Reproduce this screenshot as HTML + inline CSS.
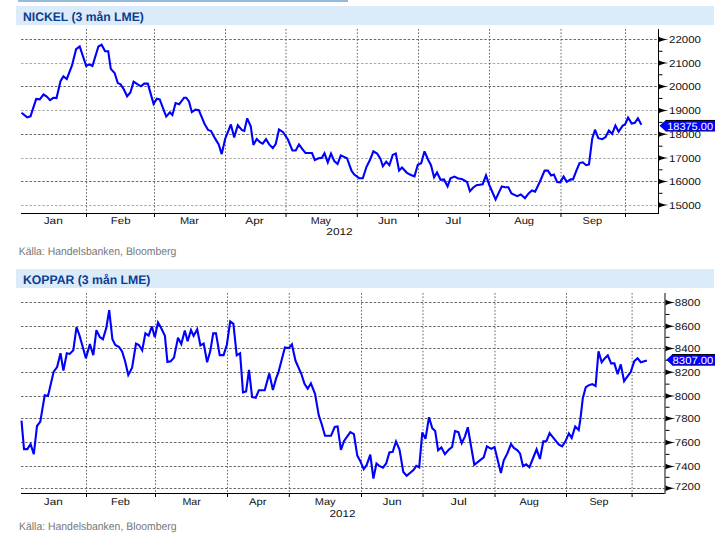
<!DOCTYPE html><html><head><meta charset="utf-8"><style>html,body{margin:0;padding:0;background:#fff;width:725px;height:553px;overflow:hidden}svg{display:block} text{text-rendering:geometricPrecision}</style></head><body>
<svg width="725" height="553" viewBox="0 0 725 553">
<rect x="0" y="0" width="725" height="553" fill="#fff"/>
<rect x="18" y="0" width="330" height="2" fill="#95bbd8"/>
<rect x="16" y="6" width="698" height="19" fill="#dcebfa"/>
<text x="23" y="20.8" font-family='"Liberation Sans", sans-serif' font-weight="bold" font-size="12.4" fill="#0b3d91" textLength="120.8" lengthAdjust="spacingAndGlyphs">NICKEL (3 mån LME)</text>
<line x1="21" y1="39.5" x2="658" y2="39.5" stroke="#6a6a6a" stroke-width="1" stroke-dasharray="2.5,1.75"/>
<line x1="21" y1="63.5" x2="658" y2="63.5" stroke="#aaaaaa" stroke-width="1" stroke-dasharray="2.5,1.75"/>
<line x1="21" y1="86.5" x2="658" y2="86.5" stroke="#6a6a6a" stroke-width="1" stroke-dasharray="2.5,1.75"/>
<line x1="21" y1="110.5" x2="658" y2="110.5" stroke="#aaaaaa" stroke-width="1" stroke-dasharray="2.5,1.75"/>
<line x1="21" y1="134.5" x2="658" y2="134.5" stroke="#6a6a6a" stroke-width="1" stroke-dasharray="2.5,1.75"/>
<line x1="21" y1="158.5" x2="658" y2="158.5" stroke="#aaaaaa" stroke-width="1" stroke-dasharray="2.5,1.75"/>
<line x1="21" y1="181.5" x2="658" y2="181.5" stroke="#6a6a6a" stroke-width="1" stroke-dasharray="2.5,1.75"/>
<line x1="21" y1="205.5" x2="658" y2="205.5" stroke="#aaaaaa" stroke-width="1" stroke-dasharray="2.5,1.75"/>
<line x1="86.5" y1="29" x2="86.5" y2="213" stroke="#666" stroke-width="1" stroke-dasharray="1.6,1.8"/>
<line x1="154.5" y1="29" x2="154.5" y2="213" stroke="#666" stroke-width="1" stroke-dasharray="1.6,1.8"/>
<line x1="225.5" y1="29" x2="225.5" y2="213" stroke="#666" stroke-width="1" stroke-dasharray="1.6,1.8"/>
<line x1="286.0" y1="29" x2="286.0" y2="213" stroke="#666" stroke-width="1" stroke-dasharray="1.6,1.8"/>
<line x1="357.3" y1="29" x2="357.3" y2="213" stroke="#666" stroke-width="1" stroke-dasharray="1.6,1.8"/>
<line x1="418.5" y1="29" x2="418.5" y2="213" stroke="#666" stroke-width="1" stroke-dasharray="1.6,1.8"/>
<line x1="489.5" y1="29" x2="489.5" y2="213" stroke="#666" stroke-width="1" stroke-dasharray="1.6,1.8"/>
<line x1="561.0" y1="29" x2="561.0" y2="213" stroke="#666" stroke-width="1" stroke-dasharray="1.6,1.8"/>
<line x1="625.5" y1="29" x2="625.5" y2="213" stroke="#666" stroke-width="1" stroke-dasharray="1.6,1.8"/>
<polyline points="21.5,112.8 27.2,117.3 30.5,116.3 36.2,98.9 39.8,99.4 43.5,94.5 46.8,96.5 50.0,100.1 53.3,97.8 56.5,98.1 60.6,81.0 63.4,76.4 66.8,79.0 72.0,65.5 76.1,49.2 79.7,46.5 86.2,66.0 89.1,64.4 92.4,66.0 98.4,46.5 101.6,44.7 105.1,51.2 108.2,51.2 110.8,68.9 114.6,73.0 117.8,83.1 120.6,84.4 123.8,89.3 127.1,96.3 130.4,92.5 133.6,81.6 137.7,84.4 140.9,86.3 144.2,83.6 147.8,83.6 153.6,103.9 156.9,98.7 159.7,99.4 166.2,116.6 169.9,112.4 172.4,115.0 175.6,103.1 179.2,104.2 184.1,97.7 186.2,97.7 189.0,101.5 191.8,112.1 195.5,109.6 198.8,110.1 204.6,124.0 208.1,130.0 211.1,131.0 214.7,137.9 218.7,144.4 221.7,154.1 225.2,138.7 230.9,124.5 234.2,137.4 237.8,125.2 242.0,130.2 244.3,130.9 247.2,118.3 250.8,126.5 253.4,144.9 256.7,139.0 260.3,142.4 262.7,143.6 266.0,139.2 269.2,144.4 272.8,148.1 275.7,144.0 279.0,129.4 283.1,132.2 287.9,139.5 292.4,150.5 295.7,150.5 299.0,144.5 302.2,148.9 305.5,153.0 312.0,153.0 314.8,160.0 318.5,158.2 321.8,157.9 324.5,153.3 327.8,162.4 331.0,153.5 334.3,161.1 337.6,164.0 340.8,155.4 347.0,158.2 351.6,170.9 354.3,174.6 359.2,178.2 362.8,178.2 366.5,166.8 369.8,160.3 373.4,151.3 377.1,153.5 380.4,158.7 382.9,166.3 386.2,161.6 389.4,165.2 392.7,154.9 395.8,153.5 399.1,170.6 402.0,167.6 406.9,172.8 410.9,175.0 414.5,176.3 417.8,164.7 421.2,163.2 424.5,151.3 428.0,159.5 431.0,165.2 434.1,177.4 437.0,172.5 440.6,179.8 444.0,179.4 447.6,186.4 450.5,178.2 454.4,176.6 458.2,178.5 461.8,179.0 467.1,182.0 469.9,191.2 473.3,187.5 476.5,185.2 482.7,184.2 486.0,175.4 489.5,185.5 495.6,199.4 501.8,186.4 505.0,187.2 508.3,187.2 511.5,193.4 517.2,196.1 520.8,194.5 525.0,198.2 528.6,193.4 531.9,190.4 535.1,191.6 540.0,181.5 544.6,170.6 547.9,170.6 551.1,175.4 553.9,174.5 557.1,182.0 560.1,182.3 563.6,176.6 566.8,181.8 570.6,179.4 573.0,179.4 576.3,170.9 579.5,163.1 582.8,162.3 586.1,165.2 589.0,164.4 592.2,138.7 595.0,129.7 598.3,138.2 602.3,139.2 605.6,137.0 608.9,130.5 612.1,133.8 615.4,125.6 618.6,131.8 622.7,125.6 625.1,124.5 628.1,117.5 631.7,123.5 634.9,122.9 637.9,118.3 641.4,124.8" fill="none" stroke="#0000ff" stroke-width="2.1" stroke-linejoin="miter" stroke-miterlimit="3"/>
<line x1="21" y1="213.5" x2="658.5" y2="213.5" stroke="#000" stroke-width="1"/>
<line x1="658.5" y1="29" x2="658.5" y2="214" stroke="#000" stroke-width="1"/>
<line x1="86.5" y1="213" x2="86.5" y2="217" stroke="#000" stroke-width="1"/>
<line x1="154.5" y1="213" x2="154.5" y2="217" stroke="#000" stroke-width="1"/>
<line x1="225.5" y1="213" x2="225.5" y2="217" stroke="#000" stroke-width="1"/>
<line x1="286.0" y1="213" x2="286.0" y2="217" stroke="#000" stroke-width="1"/>
<line x1="357.3" y1="213" x2="357.3" y2="217" stroke="#000" stroke-width="1"/>
<line x1="418.5" y1="213" x2="418.5" y2="217" stroke="#000" stroke-width="1"/>
<line x1="489.5" y1="213" x2="489.5" y2="217" stroke="#000" stroke-width="1"/>
<line x1="561.0" y1="213" x2="561.0" y2="217" stroke="#000" stroke-width="1"/>
<line x1="625.5" y1="213" x2="625.5" y2="217" stroke="#000" stroke-width="1"/>
<path d="M658.5,36.4 Q661,38.4 668.5,39.4 Q661,40.4 658.5,42.4 Z" fill="#000"/>
<text x="669.0" y="43.1" font-family='"Liberation Sans", sans-serif' font-size="10" fill="#111" textLength="31.9" lengthAdjust="spacingAndGlyphs">22000</text>
<path d="M658.5,60.1 Q661,62.1 668.5,63.1 Q661,64.1 658.5,66.1 Z" fill="#000"/>
<text x="669.0" y="66.8" font-family='"Liberation Sans", sans-serif' font-size="10" fill="#111" textLength="31.9" lengthAdjust="spacingAndGlyphs">21000</text>
<path d="M658.5,83.4 Q661,85.4 668.5,86.4 Q661,87.4 658.5,89.4 Z" fill="#000"/>
<text x="669.0" y="90.10000000000001" font-family='"Liberation Sans", sans-serif' font-size="10" fill="#111" textLength="31.9" lengthAdjust="spacingAndGlyphs">20000</text>
<path d="M658.5,107.4 Q661,109.4 668.5,110.4 Q661,111.4 658.5,113.4 Z" fill="#000"/>
<text x="669.0" y="114.10000000000001" font-family='"Liberation Sans", sans-serif' font-size="10" fill="#111" textLength="31.9" lengthAdjust="spacingAndGlyphs">19000</text>
<path d="M658.5,131.3 Q661,133.3 668.5,134.3 Q661,135.3 658.5,137.3 Z" fill="#000"/>
<text x="669.0" y="138.0" font-family='"Liberation Sans", sans-serif' font-size="10" fill="#111" textLength="31.9" lengthAdjust="spacingAndGlyphs">18000</text>
<path d="M658.5,155.1 Q661,157.1 668.5,158.1 Q661,159.1 658.5,161.1 Z" fill="#000"/>
<text x="669.0" y="161.79999999999998" font-family='"Liberation Sans", sans-serif' font-size="10" fill="#111" textLength="31.9" lengthAdjust="spacingAndGlyphs">17000</text>
<path d="M658.5,178.5 Q661,180.5 668.5,181.5 Q661,182.5 658.5,184.5 Z" fill="#000"/>
<text x="669.0" y="185.2" font-family='"Liberation Sans", sans-serif' font-size="10" fill="#111" textLength="31.9" lengthAdjust="spacingAndGlyphs">16000</text>
<path d="M658.5,202.1 Q661,204.1 668.5,205.1 Q661,206.1 658.5,208.1 Z" fill="#000"/>
<text x="669.0" y="208.79999999999998" font-family='"Liberation Sans", sans-serif' font-size="10" fill="#111" textLength="31.9" lengthAdjust="spacingAndGlyphs">15000</text>
<line x1="658.5" y1="51.25" x2="662.5" y2="51.25" stroke="#000" stroke-width="1"/>
<line x1="658.5" y1="74.75" x2="662.5" y2="74.75" stroke="#000" stroke-width="1"/>
<line x1="658.5" y1="98.4" x2="662.5" y2="98.4" stroke="#000" stroke-width="1"/>
<line x1="658.5" y1="122.35000000000001" x2="662.5" y2="122.35000000000001" stroke="#000" stroke-width="1"/>
<line x1="658.5" y1="146.2" x2="662.5" y2="146.2" stroke="#000" stroke-width="1"/>
<line x1="658.5" y1="169.8" x2="662.5" y2="169.8" stroke="#000" stroke-width="1"/>
<line x1="658.5" y1="193.3" x2="662.5" y2="193.3" stroke="#000" stroke-width="1"/>
<text x="43.7" y="224.1" font-family='"Liberation Sans", sans-serif' font-size="10" fill="#111" textLength="19.1" lengthAdjust="spacingAndGlyphs">Jan</text>
<text x="110.8" y="224.1" font-family='"Liberation Sans", sans-serif' font-size="10" fill="#111" textLength="19.7" lengthAdjust="spacingAndGlyphs">Feb</text>
<text x="179.9" y="224.1" font-family='"Liberation Sans", sans-serif' font-size="10" fill="#111" textLength="19.0" lengthAdjust="spacingAndGlyphs">Mar</text>
<text x="245.3" y="224.1" font-family='"Liberation Sans", sans-serif' font-size="10" fill="#111" textLength="18.5" lengthAdjust="spacingAndGlyphs">Apr</text>
<text x="310.7" y="224.1" font-family='"Liberation Sans", sans-serif' font-size="10" fill="#111" textLength="20.3" lengthAdjust="spacingAndGlyphs">May</text>
<text x="377.9" y="224.1" font-family='"Liberation Sans", sans-serif' font-size="10" fill="#111" textLength="19.1" lengthAdjust="spacingAndGlyphs">Jun</text>
<text x="445.3" y="224.1" font-family='"Liberation Sans", sans-serif' font-size="10" fill="#111" textLength="16.0" lengthAdjust="spacingAndGlyphs">Jul</text>
<text x="514.2" y="224.1" font-family='"Liberation Sans", sans-serif' font-size="10" fill="#111" textLength="19.9" lengthAdjust="spacingAndGlyphs">Aug</text>
<text x="582.6" y="224.1" font-family='"Liberation Sans", sans-serif' font-size="10" fill="#111" textLength="19.6" lengthAdjust="spacingAndGlyphs">Sep</text>
<text x="326.3" y="234.8" font-family='"Liberation Sans", sans-serif' font-size="10" fill="#111" textLength="26.4" lengthAdjust="spacingAndGlyphs">2012</text>
<polygon points="659.5,125.75 665.6,120.15 715,120.15 715,131.35 665.6,131.35" fill="#0000ff"/>
<line x1="665.6" y1="120.45" x2="715" y2="120.45" stroke="#000" stroke-width="1"/>
<line x1="665.6" y1="131.05" x2="715" y2="131.05" stroke="#222" stroke-width="0.8"/>
<text x="667.2" y="129.75" font-family='"Liberation Sans", sans-serif' font-size="10.5" fill="#fff" textLength="45.8" lengthAdjust="spacingAndGlyphs">18375.00</text>
<text x="18.7" y="255.4" font-family='"Liberation Sans", sans-serif' font-size="11" fill="#777" textLength="157.6" lengthAdjust="spacingAndGlyphs">Källa: Handelsbanken, Bloomberg</text>
<rect x="16" y="269" width="698" height="19" fill="#dcebfa"/>
<text x="23" y="283.8" font-family='"Liberation Sans", sans-serif' font-weight="bold" font-size="12.4" fill="#0b3d91" textLength="127.4" lengthAdjust="spacingAndGlyphs">KOPPAR (3 mån LME)</text>
<line x1="21" y1="302.5" x2="665" y2="302.5" stroke="#6a6a6a" stroke-width="1" stroke-dasharray="2.5,1.75"/>
<line x1="21" y1="326.5" x2="665" y2="326.5" stroke="#6a6a6a" stroke-width="1" stroke-dasharray="2.5,1.75"/>
<line x1="21" y1="348.5" x2="665" y2="348.5" stroke="#6a6a6a" stroke-width="1" stroke-dasharray="2.5,1.75"/>
<line x1="21" y1="372.5" x2="665" y2="372.5" stroke="#6a6a6a" stroke-width="1" stroke-dasharray="2.5,1.75"/>
<line x1="21" y1="396.5" x2="665" y2="396.5" stroke="#6a6a6a" stroke-width="1" stroke-dasharray="2.5,1.75"/>
<line x1="21" y1="418.5" x2="665" y2="418.5" stroke="#6a6a6a" stroke-width="1" stroke-dasharray="2.5,1.75"/>
<line x1="21" y1="442.5" x2="665" y2="442.5" stroke="#6a6a6a" stroke-width="1" stroke-dasharray="2.5,1.75"/>
<line x1="21" y1="466.5" x2="665" y2="466.5" stroke="#6a6a6a" stroke-width="1" stroke-dasharray="2.5,1.75"/>
<line x1="21" y1="488.5" x2="665" y2="488.5" stroke="#6a6a6a" stroke-width="1" stroke-dasharray="2.5,1.75"/>
<line x1="86.5" y1="293" x2="86.5" y2="493" stroke="#666" stroke-width="1" stroke-dasharray="1.6,1.8"/>
<line x1="155.5" y1="293" x2="155.5" y2="493" stroke="#666" stroke-width="1" stroke-dasharray="1.6,1.8"/>
<line x1="227.5" y1="293" x2="227.5" y2="493" stroke="#666" stroke-width="1" stroke-dasharray="1.6,1.8"/>
<line x1="289.3" y1="293" x2="289.3" y2="493" stroke="#666" stroke-width="1" stroke-dasharray="1.6,1.8"/>
<line x1="361.5" y1="293" x2="361.5" y2="493" stroke="#666" stroke-width="1" stroke-dasharray="1.6,1.8"/>
<line x1="423.0" y1="293" x2="423.0" y2="493" stroke="#666" stroke-width="1" stroke-dasharray="1.6,1.8"/>
<line x1="495.0" y1="293" x2="495.0" y2="493" stroke="#666" stroke-width="1" stroke-dasharray="1.6,1.8"/>
<line x1="566.5" y1="293" x2="566.5" y2="493" stroke="#666" stroke-width="1" stroke-dasharray="1.6,1.8"/>
<line x1="632.1" y1="293" x2="632.1" y2="493" stroke="#666" stroke-width="1" stroke-dasharray="1.6,1.8"/>
<polyline points="21.5,420.6 24.0,449.1 27.3,449.1 30.6,444.1 33.8,454.2 37.0,426.0 40.3,421.6 44.7,395.3 48.0,396.0 53.7,371.6 57.1,367.0 60.5,353.2 63.4,370.6 66.8,353.2 69.7,353.9 73.3,350.3 76.5,327.2 79.4,335.1 82.7,346.7 85.9,358.3 89.9,344.1 93.3,355.1 96.4,330.1 99.8,337.0 102.9,339.2 106.3,327.9 109.2,310.2 112.4,339.2 115.3,345.0 119.1,347.0 122.2,351.8 125.1,361.2 128.3,374.9 132.1,367.7 136.0,343.5 138.9,345.0 142.2,350.3 145.4,333.4 148.6,335.6 151.9,326.4 154.8,337.3 158.0,322.4 161.3,328.2 164.9,335.9 167.4,361.9 170.7,361.2 174.0,357.6 178.0,337.7 181.3,344.1 184.8,330.5 187.6,341.2 191.0,330.1 193.6,335.9 197.2,329.3 200.4,345.3 203.7,343.5 207.1,362.3 210.3,351.1 213.2,333.4 216.0,333.4 219.7,355.1 223.6,355.1 226.9,344.5 230.2,321.4 233.4,323.8 236.7,355.3 240.1,353.3 243.0,392.3 246.1,391.5 249.0,369.9 252.1,397.0 255.7,397.7 258.9,390.2 264.7,390.2 269.3,373.4 272.9,390.0 276.2,378.2 278.4,372.4 284.9,347.5 288.8,348.1 291.9,344.4 295.5,360.8 301.3,373.8 304.5,383.9 307.7,388.7 310.9,383.3 315.1,394.1 318.7,415.1 321.6,423.8 325.0,435.8 331.0,435.8 334.7,427.0 337.6,426.4 340.9,449.9 344.1,440.9 350.3,432.2 353.9,434.2 357.3,455.6 360.2,460.9 363.7,469.1 366.6,465.2 370.3,454.7 373.4,478.5 376.5,463.4 379.7,466.2 383.0,467.7 386.2,463.4 389.4,452.5 392.7,451.8 396.0,441.4 399.5,449.6 403.3,472.0 406.7,475.7 413.7,469.9 416.3,465.8 419.2,467.3 422.3,432.4 425.5,438.9 429.0,417.2 432.3,428.2 435.2,431.1 438.1,450.3 441.4,447.4 444.9,454.2 448.9,449.6 452.1,447.0 455.0,431.1 458.4,432.2 461.7,443.1 464.9,436.6 467.8,427.2 470.9,445.3 474.3,464.8 483.7,457.3 486.9,446.4 491.2,448.9 494.5,447.0 498.0,461.2 500.9,473.0 503.7,460.5 507.4,453.2 511.0,444.1 513.9,447.9 517.5,450.3 520.1,453.7 523.0,466.2 526.2,464.4 529.4,467.3 532.7,459.0 536.6,449.3 539.9,459.0 543.3,441.2 546.4,441.2 549.6,433.0 553.0,437.3 558.7,444.5 562.1,446.4 565.3,441.6 568.9,433.4 571.7,437.9 575.2,426.5 578.7,430.1 580.4,419.2 582.8,398.3 585.8,387.1 589.0,385.1 592.3,384.2 595.6,386.1 598.5,351.4 601.7,362.2 604.9,358.2 607.8,355.3 611.1,363.4 614.4,363.4 617.6,374.1 620.8,364.4 624.1,381.1 627.5,376.4 630.7,372.1 634.3,361.2 637.6,358.2 640.8,362.2 646.9,360.5" fill="none" stroke="#0000ff" stroke-width="2.1" stroke-linejoin="miter" stroke-miterlimit="3"/>
<line x1="21" y1="493.5" x2="665.5" y2="493.5" stroke="#000" stroke-width="1"/>
<line x1="665.0" y1="293" x2="665.0" y2="494" stroke="#666" stroke-width="1.6"/>
<line x1="86.5" y1="493" x2="86.5" y2="497" stroke="#000" stroke-width="1"/>
<line x1="155.5" y1="493" x2="155.5" y2="497" stroke="#000" stroke-width="1"/>
<line x1="227.5" y1="493" x2="227.5" y2="497" stroke="#000" stroke-width="1"/>
<line x1="289.3" y1="493" x2="289.3" y2="497" stroke="#000" stroke-width="1"/>
<line x1="361.5" y1="493" x2="361.5" y2="497" stroke="#000" stroke-width="1"/>
<line x1="423.0" y1="493" x2="423.0" y2="497" stroke="#000" stroke-width="1"/>
<line x1="495.0" y1="493" x2="495.0" y2="497" stroke="#000" stroke-width="1"/>
<line x1="566.5" y1="493" x2="566.5" y2="497" stroke="#000" stroke-width="1"/>
<line x1="632.1" y1="493" x2="632.1" y2="497" stroke="#000" stroke-width="1"/>
<path d="M665.5,299.6 Q668,301.6 675.5,302.6 Q668,303.6 665.5,305.6 Z" fill="#000"/>
<text x="674.8" y="306.3" font-family='"Liberation Sans", sans-serif' font-size="10" fill="#111" textLength="25.6" lengthAdjust="spacingAndGlyphs">8800</text>
<path d="M665.5,323.3 Q668,325.3 675.5,326.3 Q668,327.3 665.5,329.3 Z" fill="#000"/>
<text x="674.8" y="330.0" font-family='"Liberation Sans", sans-serif' font-size="10" fill="#111" textLength="25.6" lengthAdjust="spacingAndGlyphs">8600</text>
<path d="M665.5,345.4 Q668,347.4 675.5,348.4 Q668,349.4 665.5,351.4 Z" fill="#000"/>
<text x="674.8" y="352.09999999999997" font-family='"Liberation Sans", sans-serif' font-size="10" fill="#111" textLength="25.6" lengthAdjust="spacingAndGlyphs">8400</text>
<path d="M665.5,369.2 Q668,371.2 675.5,372.2 Q668,373.2 665.5,375.2 Z" fill="#000"/>
<text x="674.8" y="375.9" font-family='"Liberation Sans", sans-serif' font-size="10" fill="#111" textLength="25.6" lengthAdjust="spacingAndGlyphs">8200</text>
<path d="M665.5,393.1 Q668,395.1 675.5,396.1 Q668,397.1 665.5,399.1 Z" fill="#000"/>
<text x="674.8" y="399.8" font-family='"Liberation Sans", sans-serif' font-size="10" fill="#111" textLength="25.6" lengthAdjust="spacingAndGlyphs">8000</text>
<path d="M665.5,415.4 Q668,417.4 675.5,418.4 Q668,419.4 665.5,421.4 Z" fill="#000"/>
<text x="674.8" y="422.09999999999997" font-family='"Liberation Sans", sans-serif' font-size="10" fill="#111" textLength="25.6" lengthAdjust="spacingAndGlyphs">7800</text>
<path d="M665.5,439.4 Q668,441.4 675.5,442.4 Q668,443.4 665.5,445.4 Z" fill="#000"/>
<text x="674.8" y="446.09999999999997" font-family='"Liberation Sans", sans-serif' font-size="10" fill="#111" textLength="25.6" lengthAdjust="spacingAndGlyphs">7600</text>
<path d="M665.5,463.4 Q668,465.4 675.5,466.4 Q668,467.4 665.5,469.4 Z" fill="#000"/>
<text x="674.8" y="470.09999999999997" font-family='"Liberation Sans", sans-serif' font-size="10" fill="#111" textLength="25.6" lengthAdjust="spacingAndGlyphs">7400</text>
<path d="M665.5,485.3 Q668,487.3 675.5,488.3 Q668,489.3 665.5,491.3 Z" fill="#000"/>
<text x="674.8" y="490.2" font-family='"Liberation Sans", sans-serif' font-size="10" fill="#111" textLength="25.6" lengthAdjust="spacingAndGlyphs">7200</text>
<line x1="665.5" y1="314.45000000000005" x2="669.5" y2="314.45000000000005" stroke="#000" stroke-width="1"/>
<line x1="665.5" y1="337.35" x2="669.5" y2="337.35" stroke="#000" stroke-width="1"/>
<line x1="665.5" y1="360.29999999999995" x2="669.5" y2="360.29999999999995" stroke="#000" stroke-width="1"/>
<line x1="665.5" y1="384.15" x2="669.5" y2="384.15" stroke="#000" stroke-width="1"/>
<line x1="665.5" y1="407.25" x2="669.5" y2="407.25" stroke="#000" stroke-width="1"/>
<line x1="665.5" y1="430.4" x2="669.5" y2="430.4" stroke="#000" stroke-width="1"/>
<line x1="665.5" y1="454.4" x2="669.5" y2="454.4" stroke="#000" stroke-width="1"/>
<line x1="665.5" y1="477.35" x2="669.5" y2="477.35" stroke="#000" stroke-width="1"/>
<text x="43.8" y="504.5" font-family='"Liberation Sans", sans-serif' font-size="10" fill="#111" textLength="18.9" lengthAdjust="spacingAndGlyphs">Jan</text>
<text x="111.0" y="504.5" font-family='"Liberation Sans", sans-serif' font-size="10" fill="#111" textLength="19.0" lengthAdjust="spacingAndGlyphs">Feb</text>
<text x="182.4" y="504.5" font-family='"Liberation Sans", sans-serif' font-size="10" fill="#111" textLength="18.4" lengthAdjust="spacingAndGlyphs">Mar</text>
<text x="248.9" y="504.5" font-family='"Liberation Sans", sans-serif' font-size="10" fill="#111" textLength="17.6" lengthAdjust="spacingAndGlyphs">Apr</text>
<text x="314.8" y="504.5" font-family='"Liberation Sans", sans-serif' font-size="10" fill="#111" textLength="20.8" lengthAdjust="spacingAndGlyphs">May</text>
<text x="382.5" y="504.5" font-family='"Liberation Sans", sans-serif' font-size="10" fill="#111" textLength="19.1" lengthAdjust="spacingAndGlyphs">Jun</text>
<text x="450.5" y="504.5" font-family='"Liberation Sans", sans-serif' font-size="10" fill="#111" textLength="16.5" lengthAdjust="spacingAndGlyphs">Jul</text>
<text x="519.4" y="504.5" font-family='"Liberation Sans", sans-serif' font-size="10" fill="#111" textLength="19.5" lengthAdjust="spacingAndGlyphs">Aug</text>
<text x="589.4" y="504.5" font-family='"Liberation Sans", sans-serif' font-size="10" fill="#111" textLength="19.1" lengthAdjust="spacingAndGlyphs">Sep</text>
<text x="329.6" y="516.5" font-family='"Liberation Sans", sans-serif' font-size="10" fill="#111" textLength="25.9" lengthAdjust="spacingAndGlyphs">2012</text>
<polygon points="666.4,359.85 672.2,354.25 715,354.25 715,365.45000000000005 672.2,365.45000000000005" fill="#0000ff"/>
<line x1="672.2" y1="354.55" x2="715" y2="354.55" stroke="#000" stroke-width="1"/>
<line x1="672.2" y1="365.15000000000003" x2="715" y2="365.15000000000003" stroke="#222" stroke-width="0.8"/>
<text x="672.6" y="363.85" font-family='"Liberation Sans", sans-serif' font-size="10.5" fill="#fff" textLength="40.8" lengthAdjust="spacingAndGlyphs">8307.00</text>
<text x="19" y="530.3" font-family='"Liberation Sans", sans-serif' font-size="11" fill="#777" textLength="157.6" lengthAdjust="spacingAndGlyphs">Källa: Handelsbanken, Bloomberg</text>
</svg></body></html>
